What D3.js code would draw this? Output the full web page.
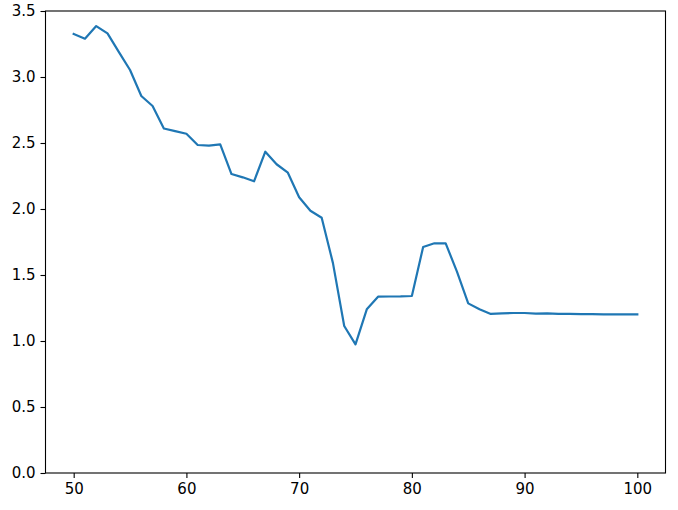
<!DOCTYPE html>
<html>
<head>
<meta charset="utf-8">
<script src="https://d3js.org/d3.v7.min.js"></script>
<style>
  body { margin: 0; background: #fff; }
  svg text { font-family: "DejaVu Sans", sans-serif; }
</style>
</head>
<body>
<svg width="678" height="510"></svg>
<script>
// x positions 50..100
const xs = d3.range(50, 101);
const ys = [
  3.326, 3.29, 3.386, 3.33, 3.19, 3.053, 2.856, 2.78, 2.61, 2.59,
  2.57, 2.485, 2.48, 2.49, 2.265, 2.24, 2.21, 2.434, 2.339, 2.275,
  2.089, 1.987, 1.934, 1.59, 1.114, 0.975, 1.24, 1.336, 1.337, 1.338,
  1.341, 1.712, 1.74, 1.74, 1.525, 1.285, 1.24, 1.205, 1.21, 1.212,
  1.212, 1.208, 1.21, 1.205, 1.206, 1.204, 1.203, 1.202, 1.202, 1.202,
  1.202
];
const xTicks = [50, 60, 70, 80, 90, 100];
const yTicks = [0, 0.5, 1, 1.5, 2, 2.5, 3, 3.5];

const svg = d3.select("svg");
const plotL = 45.5, plotR = 665.5, plotT = 11, plotB = 473;

const x = d3.scaleLinear().domain([47.5, 102.5]).range([plotL, plotR]);
const y = d3.scaleLinear().domain([0, 3.5]).range([plotB, plotT]);

const line = d3.line()
    .x((d, i) => x(xs[i]))
    .y(d => y(d));

svg.append("path")
    .datum(ys)
    .attr("fill", "none")
    .attr("stroke", "#1f77b4")
    .attr("stroke-width", 2.2)
    .attr("stroke-linejoin", "round")
    .attr("stroke-linecap", "square")
    .attr("d", line);

const xAxis = svg.append("g")
    .attr("transform", `translate(0,${plotB})`)
    .call(d3.axisBottom(x).tickValues(xTicks).tickSize(5).tickPadding(5).tickFormat(d3.format("d")));

const yAxis = svg.append("g")
    .attr("transform", `translate(${plotL},0)`)
    .call(d3.axisLeft(y).tickValues(yTicks).tickSize(5).tickPadding(5).tickFormat(d3.format(".1f")));

[xAxis, yAxis].forEach(g => {
    g.select(".domain").remove();
    g.selectAll(".tick line").attr("stroke", "#000").attr("stroke-width", 1.1);
    g.selectAll(".tick text").attr("fill", "#000").style("font-size", "15px");
});

// axes frame
svg.append("rect")
    .attr("x", plotL)
    .attr("y", plotT)
    .attr("width", plotR - plotL)
    .attr("height", plotB - plotT)
    .attr("fill", "none")
    .attr("stroke", "#000")
    .attr("stroke-width", 1.1);
</script>
</body>
</html>
